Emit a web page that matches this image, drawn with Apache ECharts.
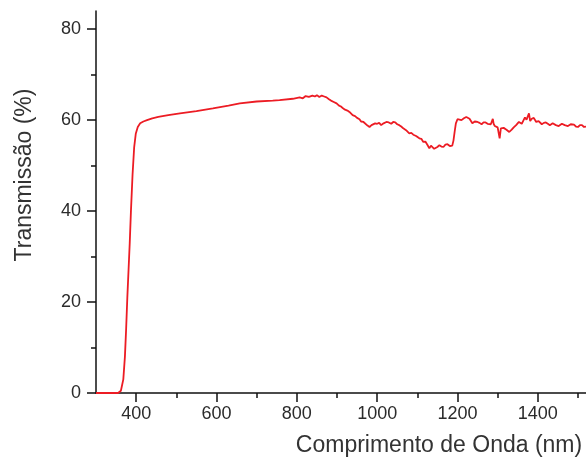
<!DOCTYPE html>
<html>
<head>
<meta charset="utf-8">
<script src="https://cdn.jsdelivr.net/npm/echarts@6/dist/echarts.min.js"></script>
<style>
html,body{margin:0;padding:0;background:#fff;}
#chart{width:586px;height:461px;}
</style>
</head>
<body>
<div id="chart"></div>
<script>
const wavelength = [300, 330, 355, 362, 368, 372, 375, 378, 381, 384, 387, 391, 395, 399, 404, 410, 418, 427, 440, 455, 480, 509, 550, 591, 630, 658, 700, 740, 757, 790, 807, 815, 822, 830, 839, 845, 850, 856, 862, 868, 874, 880, 885, 892, 899, 905, 910, 915, 920, 926, 931, 939, 945, 950, 956, 960, 966, 970, 976, 981, 986, 990, 995, 1000, 1005, 1010, 1016, 1023, 1029, 1035, 1040, 1045, 1050, 1055, 1060, 1065, 1072, 1080, 1085, 1090, 1097, 1105, 1110, 1115, 1120, 1125, 1130, 1134, 1138, 1142, 1145, 1150, 1155, 1160, 1165, 1170, 1175, 1181, 1187, 1190, 1193, 1196, 1200, 1205, 1210, 1216, 1222, 1226, 1230, 1234, 1237, 1243, 1250, 1255, 1260, 1265, 1270, 1275, 1279, 1283, 1286, 1288, 1290, 1293, 1297, 1300, 1303, 1305, 1308, 1315, 1322, 1329, 1335, 1340, 1346, 1353, 1357, 1360, 1364, 1368, 1372, 1375, 1378, 1381, 1385, 1390, 1396, 1402, 1410, 1415, 1420, 1425, 1430, 1437, 1445, 1452, 1460, 1467, 1475, 1482, 1490, 1495, 1500, 1505, 1510, 1515, 1520];
const transmission = [0, 0, 0, 0.5, 3, 8, 14, 21, 27, 33, 40, 48, 54, 57, 58.5, 59.3, 59.7, 60, 60.4, 60.7, 61.1, 61.5, 62, 62.6, 63.2, 63.7, 64.1, 64.3, 64.4, 64.7, 65, 64.8, 65.3, 65.1, 65.4, 65.2, 65.5, 65.1, 65.4, 65.2, 65, 64.6, 64.3, 64, 63.7, 63.2, 63, 62.6, 62.3, 62.1, 61.8, 61.1, 60.9, 60.5, 60.2, 59.7, 59.6, 59.3, 58.8, 58.5, 58.9, 58.8, 59.3, 59.2, 59.4, 58.9, 59.3, 59.6, 59.5, 59.2, 59.6, 59.5, 59.1, 58.9, 58.6, 58.2, 57.8, 57.1, 57.2, 56.8, 56.5, 56, 55.9, 55.2, 55.3, 54.6, 53.8, 54.4, 54.3, 53.7, 53.6, 54.1, 54.5, 54.2, 54.1, 54.6, 54.7, 54.3, 54.4, 55.5, 57.5, 59.3, 60.2, 60.1, 60, 60.4, 60.7, 60.5, 60.3, 60.6, 59.3, 59.7, 59.6, 59.4, 59.1, 59.5, 59.5, 59.2, 59.3, 59.1, 59, 60.3, 59.2, 58.7, 58.9, 58.4, 58.6, 56, 58.2, 58.3, 57.9, 57.4, 57.9, 58.4, 58.9, 59.6, 59.4, 59.2, 59.9, 60.6, 60.1, 60, 61.5, 59.8, 60.3, 60.5, 59.6, 59.8, 59.1, 59.4, 59.5, 59.2, 58.9, 59.3, 58.9, 58.7, 59.2, 58.9, 58.7, 59.1, 59, 58.6, 58.5, 58.9, 58.9, 58.5, 58.6];
const xMajorTicks = [400, 600, 800, 1000, 1200, 1400];
const xMinorTicks = [500, 700, 900, 1100, 1300, 1500];
const yMajorTicks = [0, 20, 40, 60, 80];
const yMinorTicks = [10, 30, 50, 70];
const xTitle = 'Comprimento de Onda (nm)';
const yTitle = 'Transmissão (%)';

const points = wavelength.map((w, i) => [w, transmission[i]]);
const font = 'Liberation Sans, Arial, sans-serif';
const axisColor = '#111';
const labelColor = '#2b2b2b';

const chart = echarts.init(document.getElementById('chart'), null, {renderer: 'canvas'});
chart.setOption({
  animation: false,
  backgroundColor: '#fff',
  grid: {left: 96, right: 0, top: 11, bottom: 68, containLabel: false},
  xAxis: [
    {
      type: 'value', min: 300, max: 1520, position: 'bottom',
      axisLine: {show: true, onZero: false, lineStyle: {color: axisColor, width: 1.5}},
      axisTick: {show: true, inside: false, length: 9, customValues: xMajorTicks, lineStyle: {color: axisColor, width: 1.5}},
      axisLabel: {show: true, customValues: xMajorTicks, margin: 12, fontSize: 18, fontFamily: font, color: labelColor, formatter: v => String(v)},
      splitLine: {show: false}
    },
    {
      type: 'value', min: 300, max: 1520, position: 'bottom',
      axisLine: {show: false},
      axisTick: {show: true, inside: false, length: 5, customValues: xMinorTicks, lineStyle: {color: axisColor, width: 1.5}},
      axisLabel: {show: false},
      splitLine: {show: false}
    }
  ],
  yAxis: [
    {
      type: 'value', min: 0, max: 84, position: 'left',
      axisLine: {show: true, onZero: false, lineStyle: {color: axisColor, width: 1.5}},
      axisTick: {show: true, inside: false, length: 9, customValues: yMajorTicks, lineStyle: {color: axisColor, width: 1.5}},
      axisLabel: {show: true, customValues: yMajorTicks, margin: 15, fontSize: 18, fontFamily: font, color: labelColor, formatter: v => String(v)},
      splitLine: {show: false}
    },
    {
      type: 'value', min: 0, max: 84, position: 'left',
      axisLine: {show: false},
      axisTick: {show: true, inside: false, length: 5, customValues: yMinorTicks, lineStyle: {color: axisColor, width: 1.5}},
      axisLabel: {show: false},
      splitLine: {show: false}
    }
  ],
  graphic: [
    {
      type: 'text', x: 439, y: 446,
      style: {text: xTitle, fontSize: 23, fontFamily: font, fill: '#333', textAlign: 'center', textVerticalAlign: 'middle'}
    },
    {
      type: 'text', x: 25, y: 175, rotation: Math.PI / 2,
      style: {text: yTitle, fontSize: 23, fontFamily: font, fill: '#333', textAlign: 'center', textVerticalAlign: 'middle'}
    }
  ],
  series: [
    {
      type: 'line', xAxisIndex: 0, yAxisIndex: 0,
      data: points, showSymbol: false, symbol: 'none',
      lineStyle: {color: '#ec1c24', width: 1.8},
      clip: true
    }
  ]
});
</script>
</body>
</html>
